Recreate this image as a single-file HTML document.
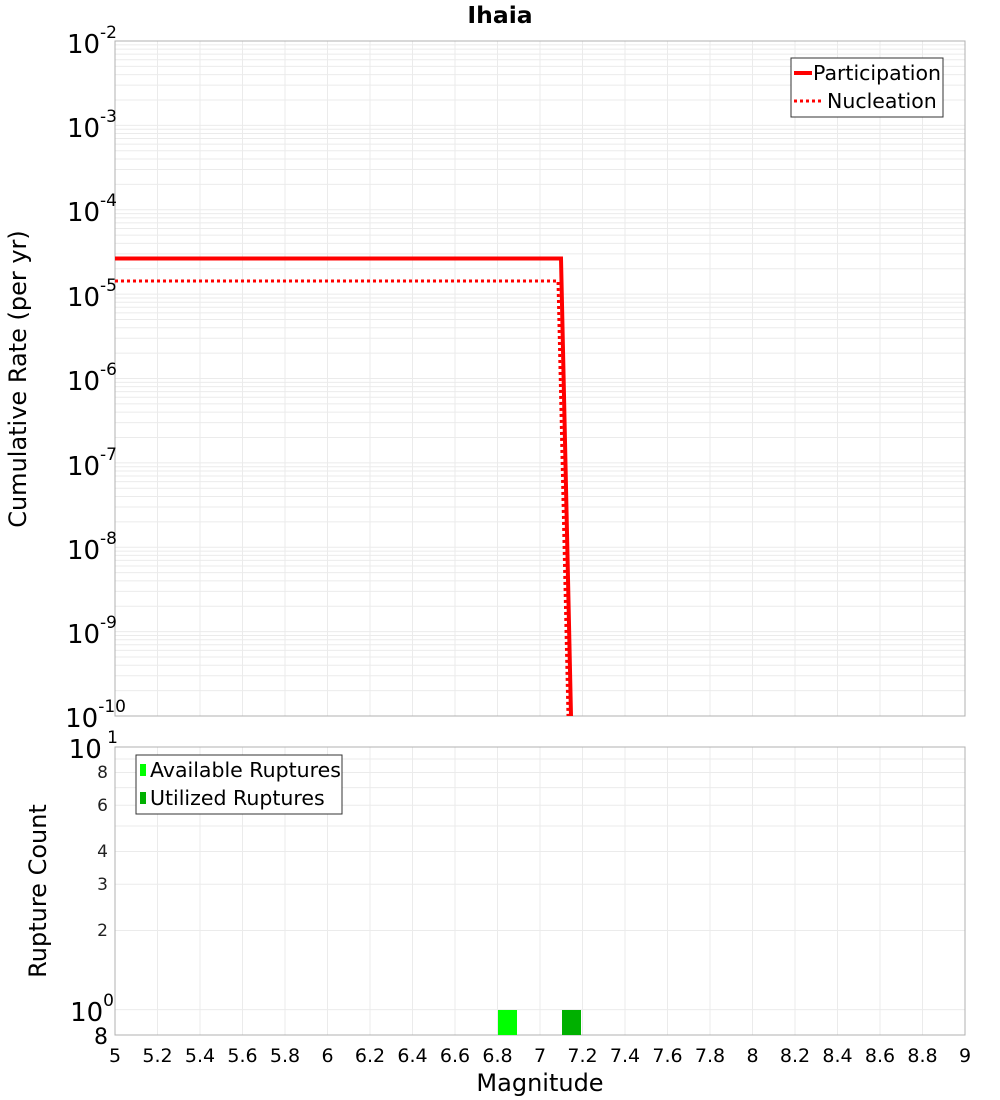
<!DOCTYPE html>
<html><head><meta charset="utf-8"><style>
body{margin:0;background:#fff;}
svg{display:block;font-family:"DejaVu Sans","Liberation Sans",sans-serif;}
</style></head><body>
<svg id="s" width="1000" height="1100" xmlns="http://www.w3.org/2000/svg">
<g id="grid"></g>
<rect x="115" y="41" width="850" height="675" fill="none" stroke="#b0b0b0"/>
<rect x="115" y="747" width="850" height="288" fill="none" stroke="#b0b0b0"/>
<text x="500" y="23" font-size="23.5" font-weight="bold" text-anchor="middle">Ihaia</text>
<g font-size="26" text-anchor="end">
<text x="117" y="53">10<tspan font-size="17" dy="-15">-2</tspan></text>
<text x="117" y="137">10<tspan font-size="17" dy="-15">-3</tspan></text>
<text x="117" y="221">10<tspan font-size="17" dy="-15">-4</tspan></text>
<text x="117" y="306">10<tspan font-size="17" dy="-15">-5</tspan></text>
<text x="117" y="390">10<tspan font-size="17" dy="-15">-6</tspan></text>
<text x="117" y="475">10<tspan font-size="17" dy="-15">-7</tspan></text>
<text x="117" y="559">10<tspan font-size="17" dy="-15">-8</tspan></text>
<text x="117" y="643">10<tspan font-size="17" dy="-15">-9</tspan></text>
<text x="126" y="727">10<tspan font-size="17" dy="-15">-10</tspan></text>
<text x="118" y="758">10<tspan font-size="17" dy="-15"> 1</tspan></text>
<text x="114" y="1021">10<tspan font-size="17" dy="-15">0</tspan></text>
</g>
<g font-size="17" text-anchor="end" fill="#222">
<text x="108" y="778">8</text>
<text x="108" y="811">6</text>
<text x="108" y="857">4</text>
<text x="108" y="890">3</text>
<text x="108" y="936">2</text>
</g>
<text x="108" y="1044" font-size="22" text-anchor="end">8</text>
<g font-size="19" text-anchor="middle" id="xl">
<text x="115" y="1062">5</text><text x="157.5" y="1062">5.2</text><text x="200" y="1062">5.4</text><text x="242.5" y="1062">5.6</text><text x="285" y="1062">5.8</text><text x="327.5" y="1062">6</text><text x="370" y="1062">6.2</text><text x="412.5" y="1062">6.4</text><text x="455" y="1062">6.6</text><text x="497.5" y="1062">6.8</text><text x="540" y="1062">7</text><text x="582.5" y="1062">7.2</text><text x="625" y="1062">7.4</text><text x="667.5" y="1062">7.6</text><text x="710" y="1062">7.8</text><text x="752.5" y="1062">8</text><text x="795" y="1062">8.2</text><text x="837.5" y="1062">8.4</text><text x="880" y="1062">8.6</text><text x="922.5" y="1062">8.8</text><text x="965" y="1062">9</text>
</g>
<text x="540" y="1091" font-size="24" text-anchor="middle">Magnitude</text>
<text transform="translate(26,379) rotate(-90)" font-size="24" text-anchor="middle">Cumulative Rate (per yr)</text>
<text transform="translate(46,891) rotate(-90)" font-size="24" text-anchor="middle">Rupture Count</text>
<polyline points="115,258.5 561,258.5 571,716" fill="none" stroke="#ff0000" stroke-width="4"/>
<polyline points="115,281 558,281 568,716" fill="none" stroke="#ff0000" stroke-width="3" stroke-dasharray="3,3"/>
<rect x="498" y="1010" width="19" height="25" fill="#00ff00"/>
<rect x="562" y="1010" width="19" height="25" fill="#00b000"/>
<rect x="791" y="58" width="152" height="59" fill="#fff" stroke="#333"/>
<line x1="794" y1="73" x2="812" y2="73" stroke="#f00" stroke-width="4"/>
<line x1="794" y1="101" x2="822" y2="101" stroke="#f00" stroke-width="3" stroke-dasharray="3,3"/>
<text x="813" y="80" font-size="20.5">Participation</text>
<text x="827" y="108" font-size="20.5">Nucleation</text>
<rect x="136" y="755" width="206" height="59" fill="#fff" stroke="#333"/>
<rect x="140" y="764" width="6" height="12" fill="#00ff00"/>
<rect x="140" y="792" width="6" height="12" fill="#00b000"/>
<text x="150" y="777" font-size="20.5">Available Ruptures</text>
<text x="150" y="805" font-size="20.5">Utilized Ruptures</text>
</svg>
<script>
var g=document.getElementById('grid'),h='';
function L(x1,y1,x2,y2){h+='<line x1="'+x1+'" y1="'+y1+'" x2="'+x2+'" y2="'+y2+'" stroke="#ebebeb" stroke-width="1"/>';}
for(var i=1;i<20;i++){var x=115+i*42.5;L(x,41,x,716);L(x,747,x,1035);}
var pd=84.375;
for(var d=0;d<8;d++){for(var m=1;m<=9;m++){var y=716-pd*d-pd*Math.log10(m);if(y>41)L(115,y,965,y);}}
var bd=262.6;
for(var m=1;m<=9;m++){var y=1009.6-bd*Math.log10(m);L(115,y,965,y);}
L(115,747,965,747);
g.innerHTML=h;
</script>
</body></html>
